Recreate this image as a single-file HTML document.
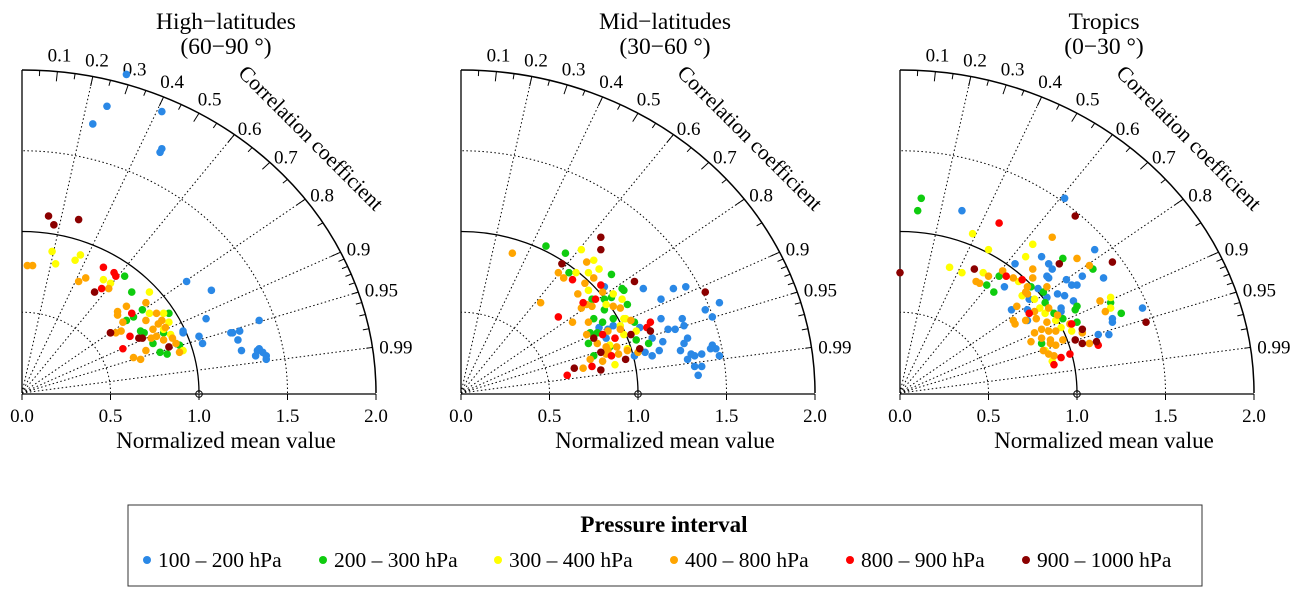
<!DOCTYPE html>
<html><head><meta charset="utf-8"><style>
html,body{margin:0;padding:0;background:#fff;}
svg{display:block;font-family:"Liberation Serif",serif;}
</style></head><body>
<svg id="chart" width="1294" height="599" viewBox="0 0 1294 599" xmlns="http://www.w3.org/2000/svg">
<g id="panels"></g>
<g>
<rect x="128" y="505" width="1074" height="81" fill="#fff" stroke="#333" stroke-width="1"/>
<text x="664" y="532" text-anchor="middle" font-size="23" font-weight="bold">Pressure interval</text>
<g id="legend-items"></g>
</g>
</svg>
<script>
// ---- data: [x, y] points in normalized units per panel & series ----
const seriesNames = ["100 – 200 hPa","200 – 300 hPa","300 – 400 hPa","400 – 800 hPa","800 – 900 hPa","900 – 1000 hPa"];
const seriesColors = ["#2a88e6","#0fcc0f","#ffff00","#ffa500","#ff0000","#8b0000"];
const panelTitles = [["High−latitudes","(60−90 °)"],["Mid−latitudes","(30−60 °)"],["Tropics","(0−30 °)"]];
const corrMajor = [0.1,0.2,0.3,0.4,0.5,0.6,0.7,0.8,0.9,0.95,0.99];
const corrRays = [0.2,0.4,0.6,0.8,0.9,0.95,0.99];
const xTicks = [0,0.5,1,1.5,2];
const xTickLabels = ["0.0","0.5","1.0","1.5","2.0"];

const hiBlue=[[0.59,1.80],[0.48,1.62],[0.40,1.52],[0.79,1.59],[0.79,1.38],[0.78,1.36],[0.93,0.63],[1.07,0.58],[1.04,0.42],[1.34,0.41],[0.91,0.35],[0.91,0.34],[1.0,0.32],[1.02,0.28],[1.18,0.34],[1.19,0.34],[1.23,0.35],[1.22,0.30],[1.24,0.24],[1.33,0.24],[1.34,0.25],[1.36,0.23],[1.38,0.21],[1.38,0.19],[1.32,0.21]];
const hiGreen=[[0.58,0.66],[0.62,0.57],[0.68,0.47],[0.63,0.43],[0.59,0.41],[0.83,0.45],[0.67,0.35],[0.69,0.34],[0.74,0.28],[0.78,0.23],[0.82,0.22],[0.89,0.27],[0.80,0.34]];
const hiYellow=[[0.17,0.80],[0.19,0.73],[0.33,0.78],[0.30,0.75],[0.46,0.64],[0.50,0.62],[0.72,0.57],[0.72,0.45],[0.80,0.45],[0.83,0.40],[0.84,0.33],[0.91,0.24],[0.80,0.36]];
const hiOrange=[[0.03,0.72],[0.06,0.72],[0.32,0.63],[0.36,0.65],[0.49,0.59],[0.59,0.49],[0.54,0.46],[0.54,0.44],[0.57,0.40],[0.56,0.35],[0.53,0.34],[0.70,0.51],[0.76,0.45],[0.70,0.41],[0.79,0.41],[0.74,0.36],[0.76,0.32],[0.80,0.30],[0.85,0.31],[0.87,0.28],[0.70,0.24],[0.63,0.20],[0.67,0.19],[0.89,0.23],[0.81,0.37],[0.77,0.39],[0.73,0.31]];
const hiRed=[[0.46,0.71],[0.52,0.68],[0.53,0.66],[0.45,0.59],[0.62,0.45],[0.61,0.32],[0.57,0.25],[0.50,0.34]];
const hiDark=[[0.15,1.0],[0.18,0.95],[0.32,0.98],[0.41,0.57],[0.50,0.34],[0.66,0.31],[0.68,0.31],[0.83,0.26]];

const midBlue=[[0.81,0.60],[1.03,0.59],[1.20,0.59],[1.27,0.60],[1.13,0.53],[1.46,0.51],[1.38,0.47],[1.42,0.43],[1.13,0.42],[1.25,0.42],[1.26,0.38],[1.17,0.36],[1.21,0.36],[1.01,0.37],[1.08,0.31],[1.14,0.29],[1.28,0.31],[1.26,0.28],[1.24,0.24],[1.12,0.24],[1.04,0.23],[1.08,0.21],[0.98,0.21],[1.30,0.22],[1.28,0.19],[1.32,0.21],[1.36,0.22],[1.32,0.15],[1.34,0.10],[1.36,0.15],[1.42,0.27],[1.44,0.25],[1.46,0.21],[1.41,0.25],[0.78,0.37],[0.82,0.31],[0.83,0.36],[0.86,0.38]];
const midGreen=[[0.48,0.83],[0.59,0.79],[0.61,0.68],[0.85,0.67],[0.91,0.59],[0.92,0.58],[0.85,0.54],[0.81,0.53],[0.74,0.53],[0.94,0.50],[0.81,0.47],[0.75,0.42],[0.80,0.40],[0.86,0.42],[0.98,0.40],[0.73,0.34],[0.72,0.28],[0.84,0.26],[1.06,0.28],[0.99,0.30],[0.75,0.21],[0.77,0.34]];
const midYellow=[[0.68,0.81],[0.75,0.75],[0.72,0.68],[0.78,0.70],[0.65,0.68],[0.72,0.58],[0.86,0.56],[0.91,0.53],[0.82,0.50],[0.92,0.42],[0.93,0.42],[0.99,0.35],[0.92,0.33],[0.94,0.25],[0.87,0.16],[0.84,0.27],[0.90,0.38]];
const midOrange=[[0.29,0.79],[0.45,0.51],[0.55,0.68],[0.58,0.65],[0.71,0.74],[0.75,0.65],[0.70,0.62],[0.66,0.56],[0.68,0.48],[0.71,0.50],[0.74,0.49],[0.63,0.40],[0.72,0.40],[0.86,0.49],[0.90,0.48],[0.80,0.57],[0.71,0.33],[0.83,0.35],[0.90,0.36],[0.96,0.41],[0.82,0.26],[0.88,0.26],[0.82,0.22],[0.89,0.22],[0.94,0.24],[1.00,0.23],[0.73,0.19],[0.80,0.18],[0.69,0.14],[0.83,0.24],[0.77,0.28],[0.87,0.31]];
const midRed=[[0.63,0.64],[0.79,0.61],[0.76,0.53],[0.69,0.51],[0.55,0.43],[1.07,0.40],[1.05,0.37],[0.80,0.33],[0.87,0.31],[0.85,0.21],[0.74,0.15],[0.60,0.10]];
const midDark=[[0.79,0.88],[0.79,0.81],[0.57,0.73],[0.98,0.63],[1.38,0.57],[1.07,0.35],[0.96,0.33],[0.75,0.31],[1.01,0.25],[0.79,0.23],[0.93,0.19],[0.79,0.13],[0.64,0.14]];

const trBlue=[[0.93,1.10],[0.35,1.03],[0.65,0.73],[0.80,0.77],[0.84,0.73],[0.86,0.70],[0.83,0.66],[0.84,0.65],[1.10,0.81],[0.94,0.64],[0.97,0.61],[1.0,0.61],[1.03,0.66],[1.15,0.65],[0.78,0.59],[0.59,0.60],[0.89,0.56],[0.93,0.55],[0.83,0.54],[0.73,0.53],[0.98,0.52],[0.91,0.48],[0.91,0.46],[0.63,0.47],[0.72,0.47],[1.20,0.42],[1.20,0.40],[1.37,0.48],[1.12,0.33],[1.18,0.33],[0.72,0.41]];
const trGreen=[[0.12,1.10],[0.10,1.03],[0.92,0.76],[1.09,0.70],[0.56,0.66],[0.49,0.61],[0.53,0.57],[0.81,0.57],[0.82,0.51],[0.99,0.47],[1.0,0.49],[1.19,0.51],[1.25,0.45],[0.87,0.45],[0.92,0.42],[1.0,0.40],[0.80,0.28],[0.74,0.60]];
const trYellow=[[0.41,0.90],[0.50,0.81],[0.28,0.71],[0.35,0.68],[0.75,0.84],[0.71,0.77],[0.47,0.68],[0.67,0.63],[0.69,0.55],[0.76,0.53],[0.79,0.48],[0.82,0.45],[0.91,0.37],[0.97,0.35],[1.19,0.54],[1.19,0.48],[0.86,0.18],[0.82,0.24],[0.88,0.41]];
const trOrange=[[0.86,0.88],[1.0,0.76],[0.75,0.70],[0.75,0.65],[0.58,0.69],[0.50,0.66],[0.43,0.63],[0.45,0.62],[0.64,0.65],[1.07,0.72],[0.83,0.60],[0.72,0.60],[0.71,0.57],[0.72,0.56],[0.66,0.49],[0.76,0.46],[0.84,0.48],[0.71,0.41],[0.77,0.42],[0.83,0.40],[0.89,0.44],[0.64,0.41],[0.65,0.39],[0.80,0.36],[0.76,0.34],[0.84,0.35],[0.88,0.35],[0.80,0.31],[0.85,0.30],[0.92,0.30],[0.74,0.29],[0.88,0.27],[0.85,0.28],[0.81,0.24],[0.84,0.22],[0.87,0.21],[1.13,0.52],[1.16,0.46],[1.07,0.28],[1.03,0.34],[0.96,0.39]];
const trRed=[[0.56,0.96],[0.60,0.66],[0.69,0.64],[0.73,0.45],[0.97,0.39],[0.96,0.22],[0.91,0.20],[0.87,0.16],[1.12,0.27]];
const trDark=[[0.00,0.68],[0.99,1.0],[0.90,0.73],[1.20,0.74],[0.42,0.70],[1.39,0.40],[1.03,0.36],[0.99,0.30],[1.03,0.28],[1.11,0.29]];

const panelSeries=[[hiBlue,hiGreen,hiYellow,hiOrange,hiRed,hiDark],[midBlue,midGreen,midYellow,midOrange,midRed,midDark],[trBlue,trGreen,trYellow,trOrange,trRed,trDark]];

const NS="http://www.w3.org/2000/svg";
const SX=177, SY=161.5, OY=393;
const panelOX=[22,461,900];
function mk(tag,attrs,parent){const e=document.createElementNS(NS,tag);for(const k in attrs)e.setAttribute(k,attrs[k]);parent.appendChild(e);return e;}
const root=document.getElementById('panels');

panelOX.forEach((ox,pi)=>{
  const g=mk('g',{},root);
  
  
  const gx=(r,c)=>ox+r*c*SX;
  const gy=(r,c)=>OY-r*Math.sqrt(1-c*c)*SY;
  const px=v=>ox+v*SX;
  const py=v=>OY-v*SX;
  const arc=(r,dash,w,name)=>{const a=mk('path',{d:`M${ox+r*SX},${OY} A${r*SX},${r*SY} 0 0 0 ${ox},${OY-r*SY}`,fill:'none',stroke:'#000','stroke-width':w,'stroke-dasharray':dash},g);
    };
  arc(0.5,'1.5,2.5',1,'std-grid-arc');
  arc(1.5,'1.5,2.5',1,'std-grid-arc');
  arc(1,'none',1.3,'reference-std-arc');
  arc(2,'none',1.5,'outer-correlation-arc');
  corrRays.forEach(c=>{const l=mk('line',{x1:ox,y1:OY,x2:gx(2,c),y2:gy(2,c),stroke:'#000','stroke-width':1,'stroke-dasharray':'1.5,2.5'},g);
    });
  for(let i=1;i<20;i++){const c=i/20;const maj=(i%2===0);const len=maj?0.06:0.035;
    const t=mk('line',{x1:gx(2,c),y1:gy(2,c),x2:gx(2-len,c),y2:gy(2-len,c),stroke:'#000','stroke-width':1},g);
    }
  for(let i=91;i<100;i++){const c=i/100;if(i===95)continue;
    const t=mk('line',{x1:gx(2,c),y1:gy(2,c),x2:gx(1.965,c),y2:gy(1.965,c),stroke:'#000','stroke-width':1},g);
    }
  corrMajor.forEach(c=>{
    const r=c<0.6?2.12:2.05;
    const t=mk('text',{x:gx(r,c)+(c<0.6?0:-2),y:gy(r,c)+(c<0.6?9:7),'text-anchor':c<0.6?'middle':'start','font-size':19},g);
    t.textContent=String(c);
    });
  const ct=mk('text',{x:ox+284,y:143,'text-anchor':'middle','font-size':21.5,transform:`rotate(45 ${ox+284} 143)`},g);
  ct.textContent='Correlation coefficient';
  
  const ya=mk('line',{x1:ox,y1:OY,x2:ox,y2:OY-2*SY,stroke:'#000','stroke-width':1.3},g);
  
  const xa=mk('line',{x1:ox,y1:OY+1,x2:ox+2*SX,y2:OY+1,stroke:'#000','stroke-width':1.3},g);
  
  xTicks.forEach((v,i)=>{
    const tk=mk('line',{x1:px(v),y1:OY+1,x2:px(v),y2:OY+7,stroke:'#000','stroke-width':1},g);
    
    const tl=mk('text',{x:px(v),y:OY+29,'text-anchor':'middle','font-size':19},g);
    tl.textContent=xTickLabels[i];
    });
  const xt=mk('text',{x:ox+204,y:448,'text-anchor':'middle','font-size':23},g);
  xt.textContent='Normalized mean value';
  
  const t1=mk('text',{x:ox+204,y:29,'text-anchor':'middle','font-size':23.5},g);
  t1.textContent=panelTitles[pi][0];
  
  const t2=mk('text',{x:ox+204,y:54,'text-anchor':'middle','font-size':23.5},g);
  t2.textContent=panelTitles[pi][1];
  
  panelSeries[pi].forEach((pts,si)=>{
    const sg=mk('g',{fill:seriesColors[si]},g);
    
    
    pts.forEach(p=>{const c=mk('circle',{cx:px(p[0]),cy:py(p[1]),r:3.8},sg);
      });
  });
  const ref=mk('circle',{cx:px(1),cy:OY+1,r:3.3,fill:'none',stroke:'#000','stroke-width':1},g);
  
  const rl=mk('line',{x1:px(1)-3,y1:OY+1,x2:px(1)+3,y2:OY+1,stroke:'#000','stroke-width':1},g);
  
});

const legendX=[147,323,498,674,850,1026];
const lg=document.getElementById('legend-items');
seriesNames.forEach((n,i)=>{
  const e=mk('g',{},lg);
  
  const d=mk('circle',{cx:legendX[i],cy:560,r:4,fill:seriesColors[i]},e);
  
  const t=mk('text',{x:legendX[i]+11,y:567,'font-size':21.5},e);
  t.textContent=n;
  
});
</script>
</body></html>
